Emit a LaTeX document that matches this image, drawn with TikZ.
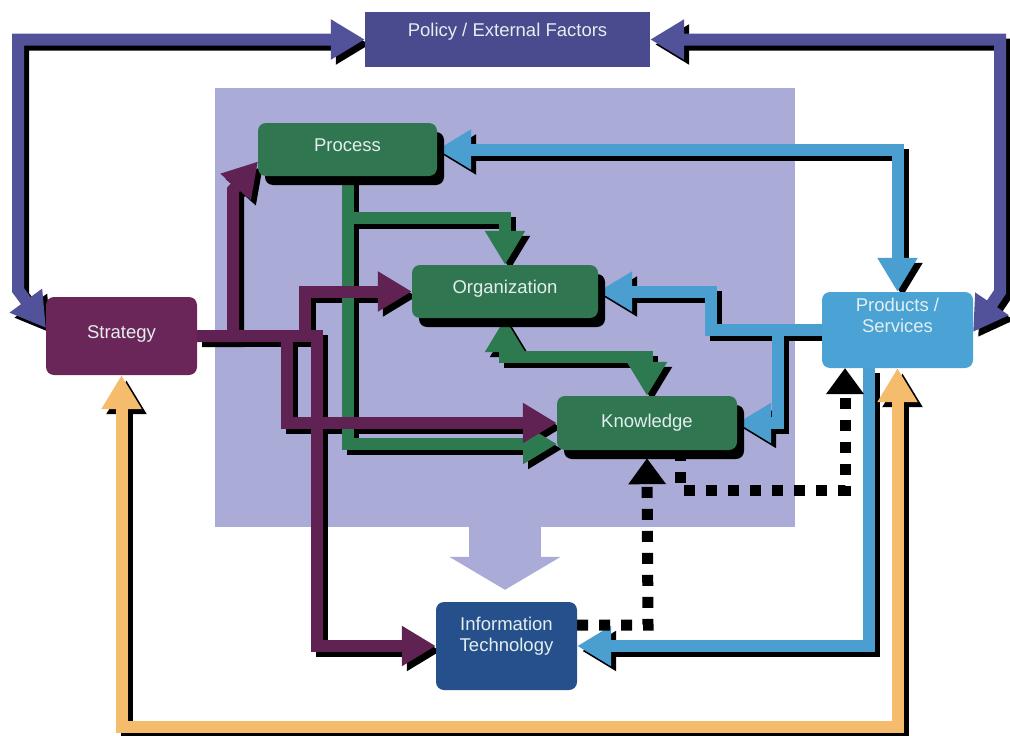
\documentclass[tikz,border=0pt]{standalone}
\usepackage{fontspec}
\setmainfont{Liberation Sans}
\usetikzlibrary{arrows.meta,shadows}
\pgfdeclarelayer{panellayer}
\pgfdeclarelayer{shadlayer}
\pgfdeclarelayer{connlayer}
\pgfsetlayers{panellayer,shadlayer,connlayer,main}
\definecolor{policyc}{RGB}{74,74,142}
\definecolor{policyl}{RGB}{82,82,154}
\definecolor{panelc}{RGB}{170,171,214}
\definecolor{greenc}{RGB}{47,118,81}
\definecolor{greenl}{RGB}{46,122,80}
\definecolor{stratc}{RGB}{106,38,88}
\definecolor{purplel}{RGB}{95,34,82}
\definecolor{prodc}{RGB}{75,162,213}
\definecolor{bluel}{RGB}{74,159,208}
\definecolor{itc}{RGB}{37,80,140}
\definecolor{orangel}{RGB}{246,188,110}
\definecolor{txtc}{RGB}{228,238,238}
\newcommand{\arr}[2]{%
\begin{pgfonlayer}{shadlayer}\draw[conn,#1,draw=black,transform canvas={xshift=5pt,yshift=-5pt}] #2;\end{pgfonlayer}%
\begin{pgfonlayer}{connlayer}\draw[conn,#1] #2;\end{pgfonlayer}}
\newcommand{\up}[2]{\raisebox{#1}[\height][\depth]{#2}}
\newcommand{\twoline}[3]{\raisebox{#1}[\height][\depth]{\begin{tabular}{@{}c@{}}#2\\#3\end{tabular}}}
\begin{document}
\begin{tikzpicture}[x=1pt,y=-1pt,
  box/.style={draw=none, rounded corners=8pt, text=txtc, align=center, inner sep=0pt,
    font=\fontsize{18.5}{21}\selectfont},
  gbox/.style={box, fill=greenc, general shadow={fill=black, shadow xshift=7pt, shadow yshift=-9pt}},
  conn/.style={line width=12pt, >={Triangle[length=34pt,width=38pt]}},
  dotline/.style={draw=black, line width=11pt, dash pattern=on 11pt off 11pt,
    >={Triangle[length=26pt,width=36pt]}}
]
\useasboundingbox (0,0) rectangle (1010,736);

% panel
\begin{pgfonlayer}{panellayer}
\node[fill=panelc, draw=none, minimum width=580pt, minimum height=439pt, inner sep=0pt] (panel) at (505,307.5) {};
\end{pgfonlayer}

% nodes
\node[box, fill=policyc, rounded corners=0pt, minimum width=285pt, minimum height=55pt] (policy) at (507.5,39.5) {\up{8pt}{Policy / External Factors}};
\node[gbox, minimum width=179pt, minimum height=53pt] (process) at (347.5,149.5) {\up{4pt}{Process}};
\node[gbox, minimum width=186pt, minimum height=53pt] (org) at (505,291.5) {\up{3pt}{Organization}};
\node[gbox, minimum width=180pt, minimum height=54pt] (know) at (647,423) {Knowledge};
\node[box, fill=stratc, minimum width=151pt, minimum height=78pt] (strategy) at (121.5,336) {\up{2pt}{Strategy}};
\node[box, fill=prodc, minimum width=151pt, minimum height=76pt] (products) at (897.5,330) {\twoline{12pt}{Products /}{Services}};
\node[box, fill=itc, minimum width=141pt, minimum height=88pt] (it) at (506.5,646) {\twoline{9pt}{Information}{Technology}};

\begin{pgfonlayer}{panellayer}
\draw[panelc, line width=72pt, -{Triangle[length=33pt,width=110pt]}, shorten >=12pt]
  (panel.south) -- (panel.south |- it.north);
\end{pgfonlayer}

% policy loops
\arr{policyl,<->}{(policy.west) -- (18,39.5) -- (18,290) -- (46,328)}
\arr{policyl,<->}{(policy.east) -- (1000,39.5) -- (1000,292) -- (973,332)}

% orange loop
\arr{orangel,<->}{(strategy.south) -- (121.5,727) -| (products.south)}

% green
\arr{greenl,->}{(process.south) -- (347.5,218) -| (org.north)}
\arr{greenl,->}{(process.south) -- (347.5,444) -- (557,444)}
\arr{greenl,<->}{(org.south) -- (505,357) -| (know.north)}

% purple
\arr{purplel,->}{(strategy.east) -- (233,336) -- (233,190) -- (258,161.5)}
\arr{purplel,->}{(strategy.east) -- (305,336) |- (org.west)}
\arr{purplel,->}{(strategy.east) -- (287,336) |- (know.west)}
\arr{purplel,->}{(strategy.east) -- (317,336) |- (it.west)}

% blue
\arr{bluel,<->}{(process.east) -| (products.north)}
\arr{bluel,->}{(products.west) -- (711,330) |- (org.east)}
\arr{bluel,->}{(products.west) -- (778,330) |- (know.east)}
\arr{bluel,->}{([xshift=-28.5pt]products.south) |- (it.east)}

% dotted
\begin{pgfonlayer}{connlayer}
\draw[dotline,->] ([yshift=21pt]it.east) -- (648,625) -- ([yshift=-8pt]know.south);
\draw[dotline,->] ([xshift=33pt]know.south) |- (845,490) -- (845,368);
\end{pgfonlayer}
\end{tikzpicture}
\end{document}
